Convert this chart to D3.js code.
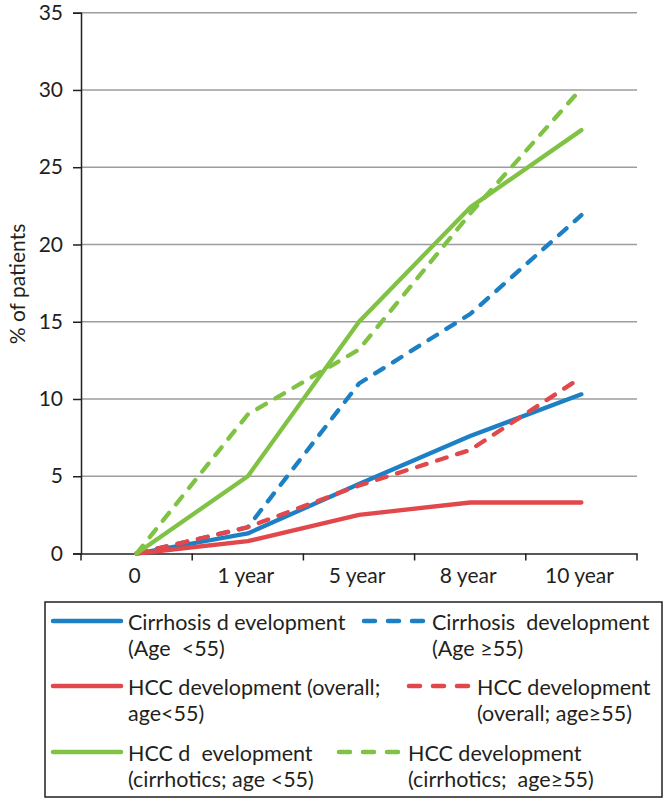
<!DOCTYPE html>
<html>
<head>
<meta charset="utf-8">
<script src="https://cdn.jsdelivr.net/npm/d3@7"></script>
<style>
  html, body { margin: 0; padding: 0; background: #fff; }
  svg { display: block; }
  text { font-family: Lato, "Open Sans", sans-serif; fill: #231f20; }
</style>
</head>
<body>
<svg id="chart" width="664" height="800"></svg>
<script>
// ---- data ----
const categories = ["0", "1 year", "5 year", "8 year", "10 year"];
const yTicks = [0, 5, 10, 15, 20, 25, 30, 35];
const cirrhosisYoung = [0, 1.3, 4.5, 7.6, 10.3];
const cirrhosisOld = [0, 1.7, 11.0, 15.5, 21.9];
const hccOverallYoung = [0, 0.8, 2.5, 3.3, 3.3];
const hccOverallOld = [0, 1.7, 4.4, 6.7, 11.4];
const hccCirrYoung = [0, 5.0, 15.0, 22.4, 27.4];
const hccCirrOld = [0, 9.0, 13.2, 22.0, 30.1];
const seriesNames = [
  ["Cirrhosis d evelopment", "(Age  <55)"],
  ["Cirrhosis  development", "(Age \u226555)"],
  ["HCC development (overall;", "age<55)"],
  ["HCC development", "(overall; age\u226555)"],
  ["HCC d  evelopment", "(cirrhotics; age <55)"],
  ["HCC development", "(cirrhotics;  age\u226555)"]
];

const BLUE = "#1d80c5", RED = "#e2474b", GREEN = "#80c243";
const series = [
  { values: cirrhosisYoung, color: BLUE, dashed: false },
  { values: cirrhosisOld, color: BLUE, dashed: true },
  { values: hccOverallYoung, color: RED, dashed: false },
  { values: hccOverallOld, color: RED, dashed: true },
  { values: hccCirrYoung, color: GREEN, dashed: false },
  { values: hccCirrOld, color: GREEN, dashed: true }
];

const svg = d3.select("#chart");
const mLeft = 81, mRight = 637, mTop = 12.7, mBottom = 553.5;

const x = d3.scaleBand().domain(categories).range([mLeft, mRight]).padding(0);
const y = d3.scaleLinear().domain([0, 35]).range([mBottom, mTop]);

// gridlines
svg.append("g").selectAll("line").data(yTicks.filter(d => d > 0)).join("line")
  .attr("x1", mLeft).attr("x2", mRight)
  .attr("y1", d => y(d)).attr("y2", d => y(d))
  .attr("stroke", "#9d9d9d").attr("stroke-width", 1.4);

// y axis
const yAxis = svg.append("g").attr("transform", `translate(${mLeft},0)`)
  .call(d3.axisLeft(y).tickValues(yTicks).tickSize(8).tickPadding(10));
yAxis.select(".domain").attr("stroke", "#231f20").attr("stroke-width", 1.5);
yAxis.selectAll(".tick line").attr("stroke", "#231f20").attr("stroke-width", 1.5);
yAxis.selectAll(".tick text").attr("font-size", 21).attr("font-family", "Lato, sans-serif").attr("fill", "#231f20");

// x axis
const xAxis = svg.append("g").attr("transform", `translate(0,${mBottom})`)
  .call(d3.axisBottom(x).tickSize(0).tickPadding(15).tickSizeOuter(0));
xAxis.select(".domain").attr("stroke", "#231f20").attr("stroke-width", 1.5);
xAxis.selectAll(".tick text").attr("font-size", 21).attr("font-family", "Lato, sans-serif").attr("fill", "#231f20")
  .attr("dx", -2);
const bounds = categories.map(c => x(c)).concat([x(categories[categories.length - 1]) + x.bandwidth()]);
xAxis.selectAll("line.bound").data(bounds).join("line").attr("class", "bound")
  .attr("x1", d => d).attr("x2", d => d).attr("y1", 0).attr("y2", 7)
  .attr("stroke", "#231f20").attr("stroke-width", 1.5);

// y title
svg.append("text")
  .attr("transform", `translate(16,284) rotate(-90)`)
  .attr("text-anchor", "middle").attr("dominant-baseline", "central")
  .attr("font-size", 21).text("% of patients");

// lines
const line = d3.line()
  .x((d, i) => x(categories[i]) + x.bandwidth() / 2)
  .y(d => y(d));
svg.append("g").selectAll("path").data(series).join("path")
  .attr("d", d => line(d.values))
  .attr("fill", "none")
  .attr("stroke", d => d.color)
  .attr("stroke-width", 4.3)
  .attr("stroke-linejoin", "round")
  .attr("stroke-linecap", "round")
  .attr("stroke-dasharray", d => d.dashed ? "10 11" : null);

// legend
const lg = svg.append("g");
lg.append("rect").attr("x", 45).attr("y", 602).attr("width", 617).attr("height", 195)
  .attr("fill", "#fff").attr("stroke", "#231f20").attr("stroke-width", 1.5);

const legendItems = [
  { s: 0, lx1: 53, lx2: 121, tx: 128, ly: 621 },
  { s: 1, lx1: 364, lx2: 423, tx: 432, ly: 621 },
  { s: 2, lx1: 53, lx2: 121, tx: 128, ly: 686 },
  { s: 3, lx1: 409, lx2: 469, tx: 477, ly: 686 },
  { s: 4, lx1: 53, lx2: 121, tx: 128, ly: 752 },
  { s: 5, lx1: 339, lx2: 400, tx: 408, ly: 752 }
];
legendItems.forEach(it => {
  const s = series[it.s];
  lg.append("line").attr("x1", it.lx1).attr("x2", it.lx2).attr("y1", it.ly).attr("y2", it.ly)
    .attr("stroke", s.color).attr("stroke-width", 4.5).attr("stroke-linecap", "round")
    .attr("stroke-dasharray", s.dashed ? "11 13" : null);
  const t = lg.append("text").attr("x", it.tx).attr("y", it.ly + 9)
    .attr("font-size", 21.5).style("white-space", "pre");
  t.append("tspan").attr("x", it.tx).text(seriesNames[it.s][0]);
  t.append("tspan").attr("x", it.tx).attr("dy", 25.5).text(seriesNames[it.s][1]);
});
</script>
</body>
</html>
